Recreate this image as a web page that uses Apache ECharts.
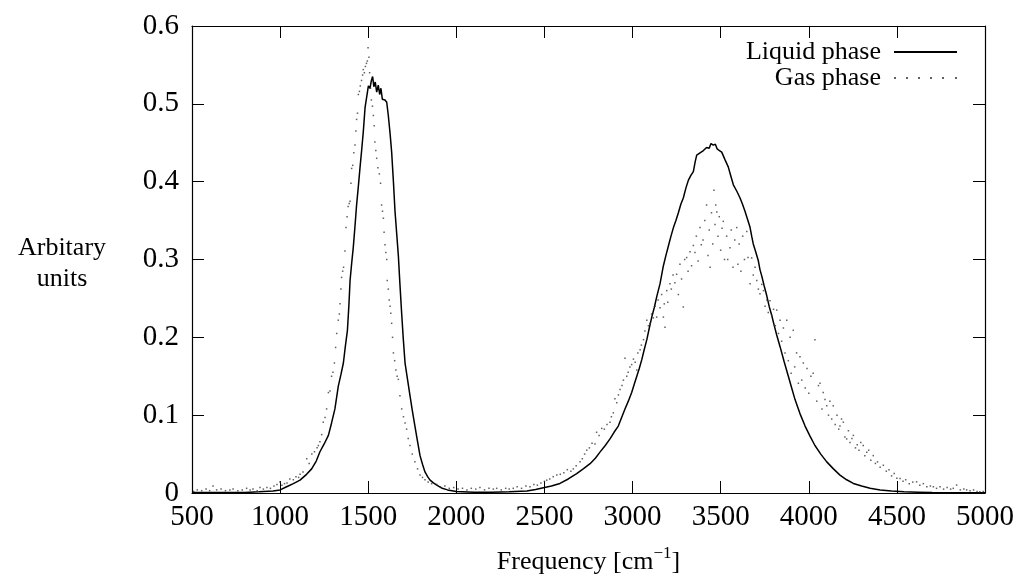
<!DOCTYPE html>
<html>
<head>
<meta charset="utf-8">
<script src="https://cdn.jsdelivr.net/npm/echarts@6/dist/echarts.min.js"></script>
<style>
html,body{margin:0;padding:0;background:#fff;}
#chart{width:1017px;height:580px;}
</style>
</head>
<body>
<div id="chart"></div>
<script>
// ---- data ----
const xTicks = [500,1000,1500,2000,2500,3000,3500,4000,4500,5000];
const yTicks = [0,0.1,0.2,0.3,0.4,0.5,0.6];
const seriesNames = ['Liquid phase','Gas phase'];

const liquidFreq = [500,600,700,800,880,960,1000,1037,1075,1113,1150,1179,1205,1226,1250,1274,1292,1311,1330,1345,1359,1370,1382,1390,1397,1406,1415,1425,1434,1444,1453,1463,1472,1482,1492,1501,1510,1518,1525,1532,1540,1548,1557,1565,1572,1580,1586,1595,1605,1614,1624,1633,1643,1652,1661,1671,1680,1690,1699,1709,1723,1737,1751,1765,1780,1794,1808,1822,1837,1851,1870,1889,1920,1950,2000,2100,2200,2300,2400,2450,2494,2540,2588,2635,2683,2720,2759,2790,2815,2845,2872,2895,2919,2938,2957,2976,2995,3010,3024,3038,3052,3066,3081,3095,3109,3123,3137,3156,3175,3189,3203,3218,3232,3246,3260,3274,3288,3303,3317,3331,3345,3355,3364,3383,3402,3420,3435,3445,3458,3470,3480,3493,3506,3525,3543,3558,3572,3591,3610,3624,3638,3652,3667,3676,3685,3700,3714,3723,3733,3747,3761,3775,3790,3804,3818,3837,3860,3884,3903,3922,3950,3979,4007,4035,4068,4102,4140,4177,4215,4253,4300,4348,4405,4470,4540,4620,4700,4800,4900,5000];
const liquidValue = [0.0005,0.0005,0.0006,0.0008,0.0015,0.0025,0.004,0.008,0.012,0.0165,0.024,0.031,0.041,0.053,0.063,0.074,0.090,0.108,0.137,0.152,0.167,0.188,0.209,0.240,0.273,0.295,0.315,0.343,0.370,0.394,0.417,0.441,0.464,0.495,0.510,0.523,0.520,0.530,0.535,0.522,0.528,0.515,0.524,0.512,0.520,0.506,0.508,0.505,0.502,0.485,0.462,0.438,0.400,0.362,0.335,0.305,0.268,0.230,0.198,0.167,0.146,0.125,0.105,0.086,0.066,0.048,0.037,0.027,0.021,0.0165,0.013,0.010,0.006,0.004,0.002,0.001,0.001,0.0015,0.0025,0.0045,0.0068,0.009,0.0123,0.018,0.025,0.031,0.0377,0.045,0.0525,0.061,0.0695,0.078,0.086,0.097,0.108,0.118,0.129,0.140,0.150,0.160,0.171,0.184,0.197,0.212,0.226,0.238,0.252,0.269,0.292,0.305,0.317,0.330,0.341,0.350,0.360,0.371,0.379,0.392,0.402,0.408,0.413,0.425,0.434,0.437,0.440,0.444,0.443,0.449,0.447,0.448,0.442,0.440,0.438,0.428,0.419,0.407,0.396,0.388,0.379,0.371,0.362,0.352,0.341,0.330,0.320,0.309,0.298,0.287,0.279,0.266,0.254,0.240,0.228,0.215,0.203,0.188,0.169,0.150,0.135,0.120,0.102,0.086,0.073,0.061,0.050,0.040,0.031,0.023,0.017,0.0123,0.009,0.006,0.004,0.0025,0.0015,0.001,0.0005,0.0003,0.0002,0.0002];

const gasFreq = [510,530,555,580,600,619,640,665,690,715,733,760,785,810,830,846,870,886,905,925,945,965,982,999,1010,1025,1039,1055,1075,1090,1105,1113,1130,1151,1165,1180,1195,1210,1217,1226,1236,1245,1255,1264,1274,1283,1292,1300,1308,1315,1321,1330,1336,1340,1345,1349,1355,1360,1368,1374,1380,1386,1392,1397,1402,1406,1412,1418,1425,1430,1434,1439,1444,1450,1455,1462,1468,1472,1478,1484,1490,1495,1499,1504,1508,1513,1518,1524,1529,1534,1538,1543,1548,1555,1563,1570,1576,1581,1586,1590,1595,1600,1605,1608,1614,1619,1624,1628,1633,1638,1643,1650,1657,1664,1671,1680,1690,1700,1709,1718,1727,1737,1750,1765,1780,1794,1808,1822,1840,1860,1889,1910,1935,1960,1985,2010,2035,2060,2085,2110,2134,2160,2185,2210,2229,2255,2280,2300,2323,2345,2370,2395,2418,2440,2460,2480,2500,2513,2530,2550,2570,2590,2610,2630,2650,2664,2680,2702,2715,2728,2740,2755,2770,2787,2796,2810,2825,2840,2855,2872,2880,2891,2900,2910,2920,2929,2940,2948,2957,2967,2975,2985,2995,3005,3015,3024,3030,3043,3050,3062,3070,3081,3090,3099,3108,3118,3128,3137,3145,3156,3165,3175,3180,3184,3194,3200,3212,3220,3230,3240,3250,3260,3269,3278,3288,3296,3307,3315,3326,3335,3345,3354,3362,3372,3383,3390,3400,3410,3420,3428,3435,3440,3448,3455,3462,3468,3472,3478,3485,3492,3500,3508,3515,3522,3534,3540,3553,3560,3570,3580,3591,3598,3605,3615,3625,3635,3648,3655,3667,3676,3685,3695,3705,3714,3723,3733,3743,3752,3762,3770,3780,3790,3800,3810,3818,3828,3837,3846,3856,3865,3875,3884,3894,3900,3912,3920,3931,3941,3950,3960,3969,3980,3990,4000,4012,4025,4035,4045,4055,4064,4075,4082,4092,4102,4112,4120,4130,4139,4150,4160,4170,4177,4186,4196,4205,4215,4225,4234,4245,4253,4265,4275,4285,4295,4309,4318,4329,4340,4352,4366,4378,4390,4405,4423,4440,4455,4470,4485,4500,4518,4535,4550,4570,4590,4612,4630,4650,4670,4690,4707,4725,4745,4765,4785,4805,4820,4839,4860,4880,4896,4915,4935,4955,4971,4990];
const gasValue = [0.002,0.004,0.003,0.005,0.003,0.009,0.004,0.005,0.003,0.004,0.005,0.003,0.004,0.006,0.004,0.005,0.003,0.007,0.005,0.007,0.006,0.009,0.011,0.014,0.010,0.012,0.013,0.018,0.017,0.021,0.020,0.024,0.027,0.044,0.038,0.050,0.053,0.058,0.061,0.066,0.075,0.091,0.097,0.108,0.129,0.131,0.150,0.155,0.167,0.187,0.205,0.222,0.230,0.243,0.262,0.277,0.285,0.290,0.311,0.341,0.355,0.368,0.372,0.375,0.398,0.417,0.421,0.437,0.447,0.465,0.480,0.488,0.512,0.516,0.523,0.530,0.537,0.544,0.540,0.548,0.552,0.555,0.572,0.560,0.540,0.520,0.505,0.497,0.485,0.472,0.451,0.440,0.430,0.418,0.410,0.398,0.370,0.362,0.353,0.335,0.319,0.309,0.300,0.273,0.262,0.248,0.240,0.231,0.218,0.200,0.180,0.170,0.158,0.150,0.146,0.125,0.108,0.098,0.090,0.082,0.070,0.061,0.050,0.040,0.031,0.023,0.020,0.017,0.014,0.012,0.011,0.008,0.009,0.006,0.007,0.005,0.006,0.004,0.006,0.005,0.007,0.004,0.006,0.005,0.006,0.004,0.006,0.005,0.006,0.008,0.006,0.009,0.008,0.011,0.010,0.013,0.015,0.0165,0.018,0.021,0.023,0.024,0.026,0.030,0.028,0.031,0.035,0.040,0.044,0.050,0.055,0.058,0.064,0.063,0.078,0.074,0.083,0.082,0.088,0.091,0.098,0.103,0.121,0.116,0.126,0.133,0.138,0.145,0.173,0.150,0.155,0.162,0.165,0.172,0.168,0.158,0.180,0.184,0.190,0.197,0.208,0.222,0.215,0.218,0.230,0.225,0.240,0.226,0.248,0.238,0.255,0.226,0.243,0.213,0.260,0.245,0.269,0.262,0.280,0.270,0.281,0.255,0.294,0.275,0.239,0.300,0.3025,0.285,0.310,0.292,0.318,0.309,0.330,0.298,0.341,0.319,0.325,0.350,0.370,0.305,0.338,0.290,0.360,0.320,0.389,0.345,0.370,0.361,0.330,0.355,0.312,0.340,0.349,0.300,0.330,0.300,0.315,0.338,0.290,0.325,0.341,0.294,0.320,0.285,0.330,0.300,0.336,0.3025,0.269,0.302,0.280,0.290,0.273,0.262,0.256,0.268,0.260,0.240,0.248,0.232,0.247,0.228,0.236,0.215,0.235,0.205,0.222,0.195,0.212,0.180,0.222,0.170,0.200,0.154,0.209,0.162,0.180,0.141,0.175,0.145,0.167,0.135,0.160,0.128,0.150,0.154,0.197,0.118,0.138,0.141,0.108,0.129,0.120,0.112,0.100,0.118,0.095,0.112,0.088,0.100,0.082,0.086,0.095,0.091,0.072,0.0695,0.080,0.065,0.070,0.074,0.058,0.062,0.055,0.065,0.061,0.048,0.0525,0.055,0.042,0.048,0.038,0.040,0.033,0.0356,0.028,0.030,0.022,0.025,0.019,0.0187,0.015,0.017,0.012,0.014,0.0144,0.010,0.012,0.008,0.009,0.008,0.006,0.008,0.005,0.007,0.005,0.006,0.0102,0.004,0.005,0.004,0.003,0.004,0.002,0.0017,0.002];

// ---- chart ----
const FONT = 'Liberation Serif';
const liquidData = liquidFreq.map((f, i) => [f, liquidValue[i]]);
const gasData = gasFreq.map((f, i) => [f, gasValue[i]]);

const tickStyle = {show: true, inside: true, length: 12, lineStyle: {color: '#000', width: 1}};
const lineStyleAxis = {show: true, onZero: false, lineStyle: {color: '#000', width: 1.2}};

const chart = echarts.init(document.getElementById('chart'), null, {renderer: 'canvas'});
chart.setOption({
  animation: false,
  backgroundColor: '#fff',
  grid: {left: 192, right: 32, top: 26, bottom: 82, containLabel: false},
  legend: {
    orient: 'vertical',
    align: 'right',
    right: 59,
    top: 39,
    padding: 0,
    itemGap: 0,
    itemWidth: 63,
    itemHeight: 2,
    textStyle: {fontFamily: FONT, fontSize: 26, color: '#000', padding: [0, 8, 0, 0]},
    data: [
      {name: seriesNames[0]},
      {name: seriesNames[1], icon: 'path://M0,0h2v2h-2zM12,0h2v2h-2zM24,0h2v2h-2zM36,0h2v2h-2zM48,0h2v2h-2zM61,0h2v2h-2z'}
    ]
  },
  graphic: [{
    type: 'text',
    x: 62, y: 264,
    style: {
      text: 'Arbitary\nunits',
      align: 'center', verticalAlign: 'middle',
      fontFamily: FONT, fontSize: 26, lineHeight: 31, fill: '#000'
    }
  }],
  xAxis: [{
    type: 'value', position: 'bottom', min: xTicks[0], max: xTicks[xTicks.length - 1], interval: xTicks[1] - xTicks[0],
    axisLine: lineStyleAxis, axisTick: tickStyle, splitLine: {show: false},
    axisLabel: {fontFamily: FONT, fontSize: 29, color: '#000', margin: 10, formatter: v => String(v)},
    name: '{m|Frequency [cm}{s|−1}{m|]}',
    nameLocation: 'middle', nameGap: 52,
    nameTextStyle: {
      rich: {
        m: {fontFamily: FONT, fontSize: 26, color: '#000', lineHeight: 30, verticalAlign: 'bottom'},
        s: {fontFamily: FONT, fontSize: 17, color: '#000', lineHeight: 17, verticalAlign: 'top'}
      }
    }
  }, {
    type: 'value', position: 'top', min: xTicks[0], max: xTicks[xTicks.length - 1], interval: xTicks[1] - xTicks[0],
    axisLine: lineStyleAxis, axisTick: tickStyle, splitLine: {show: false}, axisLabel: {show: false}
  }],
  yAxis: [{
    type: 'value', position: 'left', min: yTicks[0], max: yTicks[yTicks.length - 1], interval: 0.1,
    axisLine: lineStyleAxis, axisTick: tickStyle, splitLine: {show: false},
    axisLabel: {fontFamily: FONT, fontSize: 29, color: '#000', margin: 13,
      formatter: v => (Math.abs(v) < 1e-9 ? '0' : v.toFixed(1))}
  }, {
    type: 'value', position: 'right', min: yTicks[0], max: yTicks[yTicks.length - 1], interval: 0.1,
    axisLine: lineStyleAxis, axisTick: tickStyle, splitLine: {show: false}, axisLabel: {show: false}
  }],
  series: [{
    name: seriesNames[0],
    type: 'line',
    data: liquidData,
    symbol: 'none',
    showSymbol: false,
    lineStyle: {color: '#000', width: 1.5},
    itemStyle: {color: '#000'},
    z: 3
  }, {
    name: seriesNames[1],
    type: 'scatter',
    data: gasData,
    symbol: 'rect',
    symbolSize: 1.5,
    itemStyle: {color: '#3a3a3a'},
    z: 4
  }]
});
</script>
</body>
</html>
